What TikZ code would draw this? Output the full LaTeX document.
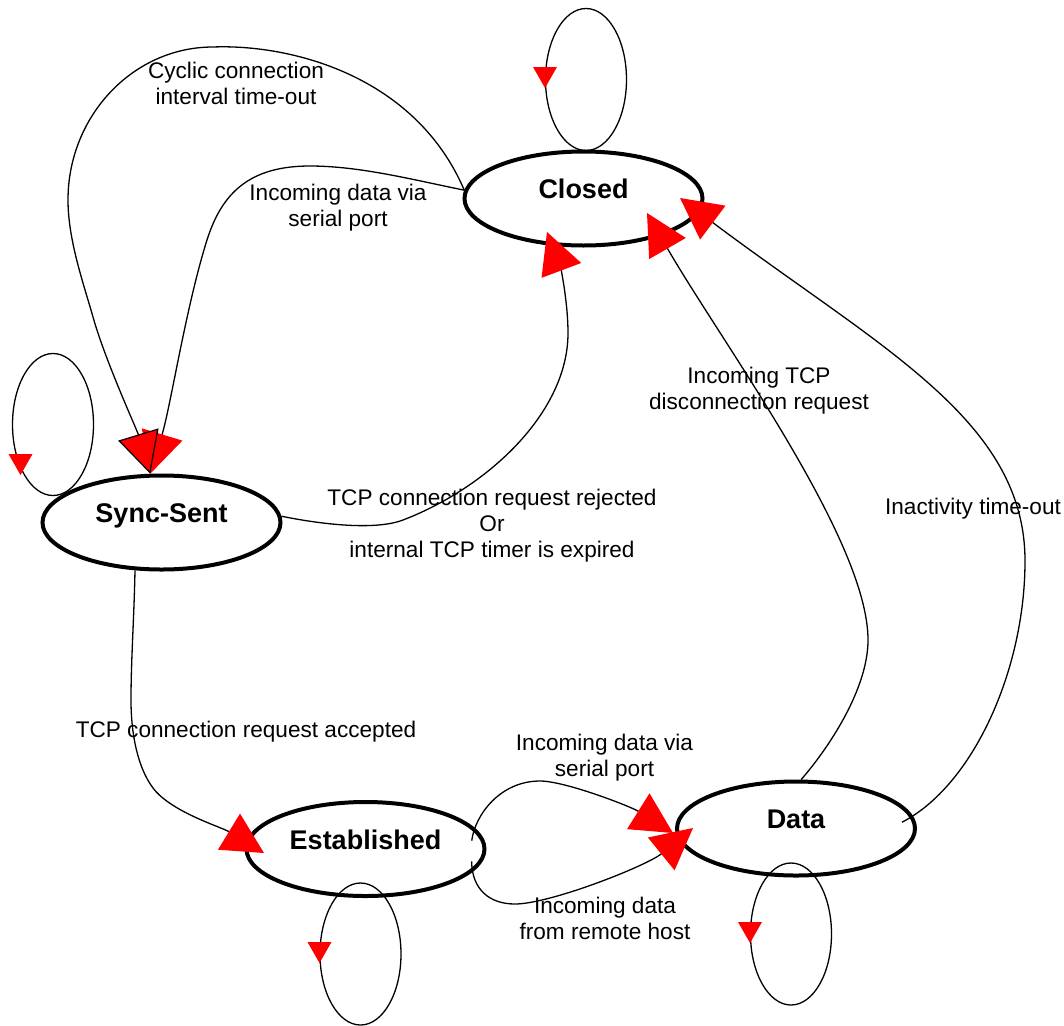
\documentclass[tikz,border=0pt]{standalone}
\usepackage{fontspec}
\setmainfont{Liberation Sans}
\usetikzlibrary{arrows.meta,shapes.geometric}
\tikzset{downtri/.pic={\fill[red] (-12,0) -- (12,0) -- (0,21) -- cycle;}}
\begin{document}
\begin{tikzpicture}[x=1pt,y=-1pt,
  state/.style={ellipse, draw=black, line width=4pt, minimum width=238pt, minimum height=94pt,
    inner sep=0pt, font=\fontsize{27}{30}\selectfont\bfseries, text height=20pt, text depth=19.3pt},
  lbl/.style={align=center, font=\fontsize{22.6}{26}\selectfont, inner sep=0pt},
  edge/.style={draw=black, line width=1.3pt},
  bigtip/.style={-{Triangle[length=41pt,width=42pt,color=red]}},
  bigtipo/.style={-{Triangle[length=41pt,width=42pt,fill=red,color=black,line width=1.2pt]}},
  loopline/.style={draw=black, line width=1.3pt},
]
\fill[white] (0,0) rectangle (1064,1025);
\useasboundingbox (0,0) rectangle (1064,1025);

% states
\node[state] (closed) at (583.5,198.5) {Closed};
\node[state] (sync) at (161.5,522.5) {Sync-Sent};
\node[state] (est) at (365.5,849) {Established};
\node[state] (data) at (796,828.5) {Data};

% self loops
\draw[loopline] ([shift={(2.5,-119)}]closed.center) ellipse [x radius=40.5, y radius=71];
\draw[loopline] ([shift={(-108.5,-98)}]sync.center) ellipse [x radius=40.5, y radius=71];
\draw[loopline] ([shift={(-5,105)}]est.center) ellipse [x radius=40.5, y radius=71];
\draw[loopline] ([shift={(-5,105.5)}]data.center) ellipse [x radius=40.5, y radius=71];
\pic at ([shift={(-38.5,-131.5)}]closed.center) {downtri};
\pic at ([shift={(-141,-68.5)}]sync.center) {downtri};
\pic at ([shift={(-46,93)}]est.center) {downtri};
\pic at ([shift={(-46,93.5)}]data.center) {downtri};

% Closed -> Sync-Sent (incoming data via serial port)
\draw[edge,bigtip] (closed.176) .. controls (414,180) and (360,166) .. (310,166)
  .. controls (250,166) and (222,192.5) .. (207,240)
  .. controls (186,306.5) and (170.7,406) .. (sync.103);
% Closed -> Sync-Sent (cyclic)
\draw[edge,bigtipo] (closed.176) .. controls (415,75) and (290,44) .. (213,47)
  .. controls (133,47) and (68,116) .. (68,200)
  .. controls (68,240) and (83.5,283.4) .. (93,317)
  .. controls (105,360) and (137,430) .. (sync.103);
% Sync-Sent -> Closed (rejected)
\draw[edge,bigtip] (sync.3) .. controls (321,524.3) and (375,530.7) .. (403,520)
  .. controls (487,487.8) and (568,413) .. (568,333)
  .. controls (568,303) and (561,269.4) .. ([shift={(-36.5,33.5)}]closed.center);
% Sync-Sent -> Established (accepted)
\draw[edge,bigtip] (sync.241) .. controls (134,620) and (131,660) .. (131,700)
  .. controls (131,735) and (138,768) .. (153,788)
  .. controls (171,812) and (221.4,827) .. ([shift={(-101.5,4)}]est.center);
% Established -> Data (serial port)
\draw[edge,bigtip] ([xshift=-13pt]est.4) .. controls (475,815) and (500,781) .. (540,781)
  .. controls (565,781) and (630.6,806.4) .. ([shift={(-123,4.5)}]data.center);
% Established -> Data (remote host)
\draw[edge,bigtip] ([xshift=-11pt]est.-6) .. controls (472,890) and (490,904) .. (515,904)
  .. controls (550,904) and (646.5,865.9) .. ([shift={(-103,-0.5)}]data.center);
% Data -> Closed (disconnection)
\draw[edge,bigtip] (data.84) .. controls (827,750) and (868,690) .. (868,640)
  .. controls (868,540) and (722,343) .. ([shift={(63.5,14.5)}]closed.center);
% Data -> Closed (inactivity)
\draw[edge,bigtip] ([xshift=-14pt]data.3) .. controls (973,785.6) and (1025,670) .. (1025,561)
  .. controls (1025,420) and (880,348) .. ([shift={(96.5,-0.5)}]closed.center);

% labels
\node[lbl] (lcyc) at (236,83.2) {Cyclic connection\\interval time-out};
\node[lbl] (lser1) at (338,207.2) {Incoming data via\\serial port};
\node[lbl] (lrej) at (492,525.2) {TCP connection request rejected\\Or\\internal TCP timer is expired};
\node[lbl] (ldisc) at (759,390.7) {Incoming TCP\\disconnection request};
\node[lbl] (linact) at (973,508.2) {Inactivity time-out};
\node[lbl] (lacc) at (246,731.2) {TCP connection request accepted};
\node[lbl] (lser2) at (604.5,757.2) {Incoming data via\\serial port};
\node[lbl] (lremote) at (605,918.5) {Incoming data\\from remote host};
\end{tikzpicture}
\end{document}
